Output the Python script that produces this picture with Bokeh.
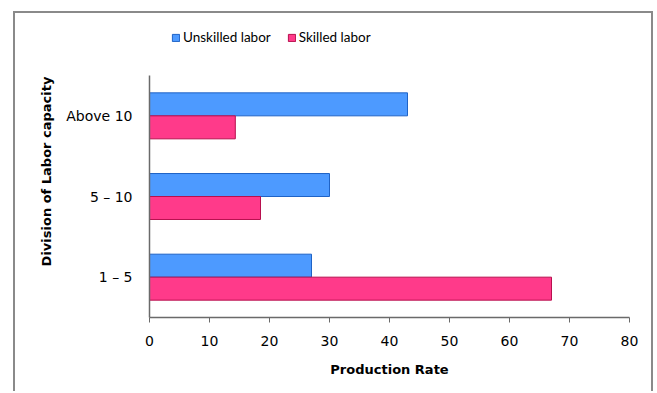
from bokeh.plotting import figure
from bokeh.models import Range1d, Legend, LegendItem, FixedTicker, ColumnDataSource
from bokeh.embed import file_html
from bokeh.resources import INLINE

categories = ["1 \u2013 5", "5 \u2013 10", "Above 10"]
unskilled = [27, 30, 43]
skilled = [67, 18.5, 14.3]
series_names = ["Unskilled labor", "Skilled labor"]
x_ticks = [0, 10, 20, 30, 40, 50, 60, 70, 80]

# categorical positions (band centres) derived from category order
pos = [i + 0.5 for i in range(len(categories))]
bar_h = 0.285
src = ColumnDataSource(dict(cat=categories,
                            y_u=[v + bar_h / 2 for v in pos],
                            y_s=[v - bar_h / 2 for v in pos],
                            unskilled=unskilled, skilled=skilled))

p = figure(width=640, height=380, output_backend="svg", toolbar_location=None,
           y_range=Range1d(0, 3.62), x_range=Range1d(0, 80),
           min_border_left=134, min_border_right=26, min_border_top=12, min_border_bottom=76,
           styles={"margin-left": "13px", "margin-top": "11px",
                   "border-top": "2px solid #8a8a8a", "border-left": "2px solid #8a8a8a",
                   "border-right": "2px solid #8a8a8a"})
p.outline_line_color = None
p.grid.visible = False

r1 = p.hbar(y="y_u", right="unskilled", height=bar_h, source=src,
            fill_color="#4d9aff", line_color="#1f63c6", line_width=1)
r2 = p.hbar(y="y_s", right="skilled", height=bar_h, source=src,
            fill_color="#ff3a8a", line_color="#b8104e", line_width=1)

p.xaxis.ticker = FixedTicker(ticks=x_ticks)
p.yaxis.ticker = FixedTicker(ticks=pos)
p.yaxis.major_label_overrides = {v: c for v, c in zip(pos, categories)}
p.yaxis.bounds = (0, len(categories))
p.xaxis.axis_label = "Production Rate"
p.yaxis.axis_label = "Division of Labor capacity"
for ax in (p.xaxis, p.yaxis):
    ax.axis_label_text_font = "DejaVu Sans"
    ax.axis_label_text_font_style = "bold"
    ax.axis_label_text_font_size = "13px"
    ax.axis_label_text_color = "#000000"
    ax.major_label_text_font = "DejaVu Sans"
    ax.major_label_text_font_size = "14px"
    ax.major_label_text_color = "#000000"
    ax.axis_line_color = "#6a6a6a"
    ax.axis_line_width = 1.5
    ax.minor_tick_line_color = None
p.xaxis.major_tick_out = 5
p.xaxis.major_tick_in = 0
p.xaxis.major_tick_line_color = "#6a6a6a"
p.xaxis.major_label_standoff = 13
p.xaxis.axis_label_standoff = 13
p.yaxis.major_tick_line_color = None
p.yaxis.major_label_standoff = 11
p.yaxis.axis_label_standoff = 9

legend = Legend(items=[LegendItem(label=series_names[0], renderers=[r1]),
                       LegendItem(label=series_names[1], renderers=[r2])],
                location=(22, 272), orientation="horizontal",
                label_text_font="Lato", label_text_font_size="13.5px",
                label_text_color="#000000",
                glyph_width=9, glyph_height=9, label_standoff=3, spacing=16,
                padding=0, margin=0, border_line_color=None, background_fill_alpha=0,
                label_height=16)
p.add_layout(legend, "center")

open("out.html", "w").write(file_html(p, INLINE))
